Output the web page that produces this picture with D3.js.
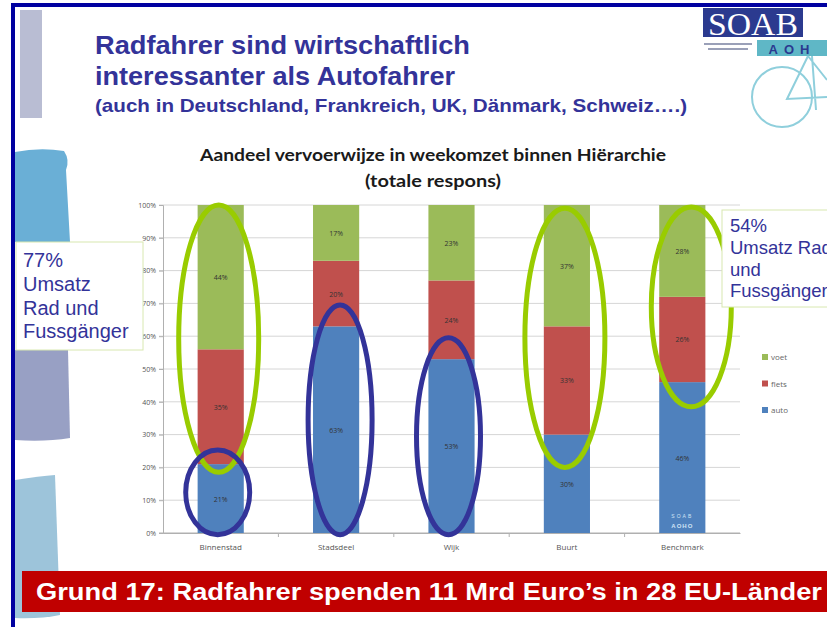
<!DOCTYPE html>
<html>
<head>
<meta charset="utf-8">
<script src="https://cdn.jsdelivr.net/npm/d3@7"></script>
<style>
  body { margin: 0; background: #fff; }
  svg { display: block; }
</style>
</head>
<body>
<div id="slide"></div>
<script>
// Chart data (percentages of weekly turnover)
var categories = ["Binnenstad", "Stadsdeel", "Wijk", "Buurt", "Benchmark"];
var auto  = [21, 63, 53, 30, 46];
var fiets = [35, 20, 24, 33, 26];
var voet  = [44, 17, 23, 37, 28];
var seriesNames = ["auto", "fiets", "voet"];
var yTicks = [0, 10, 20, 30, 40, 50, 60, 70, 80, 90, 100];

// Highlight ellipses: category, from % to %
var ringCats  = ["Binnenstad", "Binnenstad", "Stadsdeel", "Wijk", "Buurt", "Benchmark"];
var ringFrom  = [18.5, -0.5, -0.5, -0.5, 20, 38.5];
var ringTo    = [100, 25.3, 69.5, 59.5, 99, 99.4];
var ringKind  = ["fuss", "auto", "auto", "auto", "fuss", "fuss"];

var colors = { auto: "#4F81BD", fiets: "#C0504D", voet: "#9BBB59" };
var ringColors = { fuss: "#99CC00", auto: "#333399" };
var ringRx = { fuss: 40, auto: 32 };
var ringShift = [-2, -3, 4, -3, -2, 9];

var width = 827, height = 627;

var svg = d3.select("#slide").append("svg")
    .attr("width", width)
    .attr("height", height);

// left decoration shapes
svg.append("path").attr("d", "M20,10 L42,10 L42,118 L20,118 Z").attr("fill", "#b9bdd3");
svg.append("path").attr("d", "M15,152 Q40,147 64,151 Q70,160 66,170 L70,242 L15,242 Z").attr("fill", "#6aafd6");
svg.append("path").attr("d", "M15,350 L68,350 L70,438 Q45,442 15,440 Z").attr("fill", "#98a0c4");
svg.append("path").attr("d", "M15,480 Q40,476 55,475 L60,615 Q40,619 15,618 Z").attr("fill", "#9dc4da");

// slide frame
svg.append("rect").attr("x", 11).attr("y", 3).attr("width", width - 11).attr("height", 4).attr("fill", "#0000a0");
svg.append("rect").attr("x", 11).attr("y", 3).attr("width", 4).attr("height", height - 3).attr("fill", "#0000a0");

// slide title
var titleColor = "#333399";
svg.append("text").attr("x", 95).attr("y", 54)
    .attr("textLength", 375).attr("lengthAdjust", "spacingAndGlyphs")
    .style("font", "bold 25px 'Liberation Sans', Arial, sans-serif").style("fill", titleColor)
    .text("Radfahrer sind wirtschaftlich");
svg.append("text").attr("x", 95).attr("y", 85)
    .attr("textLength", 360).attr("lengthAdjust", "spacingAndGlyphs")
    .style("font", "bold 25px 'Liberation Sans', Arial, sans-serif").style("fill", titleColor)
    .text("interessanter als Autofahrer");
svg.append("text").attr("x", 95).attr("y", 112)
    .attr("textLength", 592).attr("lengthAdjust", "spacingAndGlyphs")
    .style("font", "bold 19px 'Liberation Sans', Arial, sans-serif").style("fill", titleColor)
    .text("(auch in Deutschland, Frankreich, UK, Dänmark, Schweiz….)");

// logo
var logo = svg.append("g");
logo.append("rect").attr("x", 703).attr("y", 8).attr("width", 100).attr("height", 29).attr("fill", "#2b3a8f");
logo.append("text").attr("x", 753).attr("y", 35).attr("text-anchor", "middle")
    .attr("textLength", 90).attr("lengthAdjust", "spacingAndGlyphs")
    .style("font", "31px 'Liberation Serif', serif").style("fill", "#fff")
    .text("SOAB");
logo.append("rect").attr("x", 757).attr("y", 40).attr("width", 70).attr("height", 16).attr("fill", "#5fb7c6");
logo.append("text").attr("x", 792).attr("y", 54).attr("text-anchor", "middle")
    .style("font", "bold 13px 'Liberation Sans', sans-serif").style("fill", "#2b3a8f").style("letter-spacing", "6px")
    .text("AOH");
logo.append("rect").attr("x", 704).attr("y", 43).attr("width", 48).attr("height", 2).attr("fill", "#9aa0b8");
logo.append("rect").attr("x", 708).attr("y", 48).attr("width", 40).attr("height", 2).attr("fill", "#9aa0b8");
var bike = logo.append("g").attr("fill", "none").attr("stroke", "#8fcfdc").attr("stroke-width", 2);
bike.append("circle").attr("cx", 782).attr("cy", 97).attr("r", 30);
bike.append("path").attr("d", "M808,56 L787,99 L827,97 M808,56 L827,80 M812,56 L816,110");

// chart
var plot = { left: 163, right: 740, top: 205, bottom: 533 };

var x = d3.scaleBand()
    .domain(categories)
    .range([plot.left, plot.right])
    .paddingInner(0.6)
    .paddingOuter(0.3);

var y = d3.scaleLinear()
    .domain([0, 100])
    .range([plot.bottom, plot.top]);

var rows = categories.map(function (c, i) {
    return { cat: c, auto: auto[i], fiets: fiets[i], voet: voet[i] };
});
var stacked = d3.stack().keys(seriesNames)(rows);

// chart title
svg.append("text").attr("x", 433).attr("y", 161).attr("text-anchor", "middle")
    .attr("textLength", 466).attr("lengthAdjust", "spacingAndGlyphs")
    .style("font", "bold 17.5px Lato, 'Open Sans', sans-serif").style("fill", "#1a1a1a")
    .text("Aandeel vervoerwijze in weekomzet binnen Hiërarchie");
svg.append("text").attr("x", 433).attr("y", 187).attr("text-anchor", "middle")
    .attr("textLength", 136).attr("lengthAdjust", "spacingAndGlyphs")
    .style("font", "bold 17.5px Lato, 'Open Sans', sans-serif").style("fill", "#1a1a1a")
    .text("(totale respons)");

// gridlines
svg.append("g").selectAll("line")
    .data(yTicks)
    .enter().append("line")
    .attr("x1", plot.left - 4).attr("x2", plot.right)
    .attr("y1", function (d) { return y(d); })
    .attr("y2", function (d) { return y(d); })
    .attr("stroke", function (d) { return d === 0 ? "#b0b0b0" : "#d6d6d6"; })
    .attr("stroke-width", 1);

// y axis
var yAxis = svg.append("g")
    .attr("transform", "translate(" + plot.left + ",0)")
    .call(d3.axisLeft(y).tickValues(yTicks).tickSize(4).tickFormat(function (d) { return d + "%"; }));
yAxis.select(".domain").attr("stroke", "#b0b0b0");
yAxis.selectAll(".tick line").attr("stroke", "#b0b0b0");
yAxis.selectAll("text").style("font", "7px 'Open Sans', sans-serif").style("fill", "#555");

// x axis
var xAxis = svg.append("g")
    .attr("transform", "translate(0," + plot.bottom + ")")
    .call(d3.axisBottom(x).tickSize(0).tickPadding(11));
xAxis.select(".domain").attr("stroke", "#b0b0b0");
xAxis.selectAll("text").style("font", "8px 'Open Sans', sans-serif").style("fill", "#555");
svg.append("g").selectAll("line")
    .data(categories.slice(1))
    .enter().append("line")
    .attr("x1", function (d) { return x(d) - x.step() * x.paddingInner() / 2; })
    .attr("x2", function (d) { return x(d) - x.step() * x.paddingInner() / 2; })
    .attr("y1", plot.bottom).attr("y2", plot.bottom + 4)
    .attr("stroke", "#b0b0b0");

// bars
var layers = svg.append("g").selectAll("g")
    .data(stacked)
    .enter().append("g")
    .attr("fill", function (d) { return colors[d.key]; });

layers.selectAll("rect")
    .data(function (d) { return d; })
    .enter().append("rect")
    .attr("x", function (d) { return x(d.data.cat); })
    .attr("y", function (d) { return y(d[1]); })
    .attr("width", x.bandwidth())
    .attr("height", function (d) { return y(d[0]) - y(d[1]); });

// value labels
layers.selectAll("text")
    .data(function (d) { return d; })
    .enter().append("text")
    .attr("x", function (d) { return x(d.data.cat) + x.bandwidth() / 2; })
    .attr("y", function (d) { return y((d[0] + d[1]) / 2) + 3; })
    .attr("text-anchor", "middle")
    .style("font", "7px 'Open Sans', sans-serif")
    .style("fill", "#333")
    .text(function (d) { return (d[1] - d[0]) + "%"; });

// tiny SOAB mark in benchmark bar
var bx = x("Benchmark") + x.bandwidth() / 2;
svg.append("text").attr("x", bx).attr("y", y(4.5)).attr("text-anchor", "middle")
    .style("font", "5px sans-serif").style("fill", "#cfe3f5").style("letter-spacing", "2px").text("SOAB");
svg.append("text").attr("x", bx).attr("y", y(1.5)).attr("text-anchor", "middle")
    .style("font", "bold 6px sans-serif").style("fill", "#cfe3f5").style("letter-spacing", "1px").text("AOHO");

// legend
var legendNames = ["voet", "fiets", "auto"];
var legend = svg.append("g").selectAll("g")
    .data(legendNames)
    .enter().append("g")
    .attr("transform", function (d, i) { return "translate(762," + (357 + i * 26.5) + ")"; });
legend.append("rect").attr("x", 0).attr("y", -3).attr("width", 6).attr("height", 6)
    .attr("fill", function (d) { return colors[d]; });
legend.append("text").attr("x", 9).attr("y", 3)
    .style("font", "8px 'Open Sans', sans-serif").style("fill", "#666")
    .text(function (d) { return d; });

// highlight ellipses
svg.append("g").selectAll("ellipse")
    .data(ringCats)
    .enter().append("ellipse")
    .attr("cx", function (d, i) { return x(d) + x.bandwidth() / 2 + ringShift[i]; })
    .attr("cy", function (d, i) { return (y(ringFrom[i]) + y(ringTo[i])) / 2; })
    .attr("rx", function (d, i) { return ringRx[ringKind[i]]; })
    .attr("ry", function (d, i) { return (y(ringFrom[i]) - y(ringTo[i])) / 2; })
    .attr("fill", "none")
    .attr("stroke", function (d, i) { return ringColors[ringKind[i]]; })
    .attr("stroke-width", 5);

// annotation boxes
function noteBox(bx, by, bw, bh, lines, tx, ty, lh, fs) {
    svg.append("rect").attr("x", bx).attr("y", by).attr("width", bw).attr("height", bh)
        .attr("fill", "#fff").attr("stroke", "#d8e8b0").attr("stroke-width", 1);
    svg.append("g").selectAll("text")
        .data(lines)
        .enter().append("text")
        .attr("x", tx)
        .attr("y", function (d, i) { return ty + i * lh; })
        .style("font", fs + "px 'Liberation Sans', Arial, sans-serif")
        .style("fill", "#333399")
        .text(function (d) { return d; });
}
noteBox(16, 242, 127, 108, ["77%", "Umsatz", "Rad und", "Fussgänger"], 23, 267, 23.8, 20);
noteBox(722, 210, 110, 97, ["54%", "Umsatz Rad", "und", "Fussgänger"], 730, 232, 21.8, 18.5);

// bottom banner
svg.append("rect").attr("x", 22).attr("y", 571).attr("width", width - 22).attr("height", 41).attr("fill", "#c00000");
svg.append("text").attr("x", 36).attr("y", 600)
    .attr("textLength", 786).attr("lengthAdjust", "spacingAndGlyphs")
    .style("font", "bold 23px 'Liberation Sans', Arial, sans-serif").style("fill", "#fff")
    .text("Grund 17: Radfahrer spenden 11 Mrd Euro’s in 28 EU-Länder");
</script>
</body>
</html>
